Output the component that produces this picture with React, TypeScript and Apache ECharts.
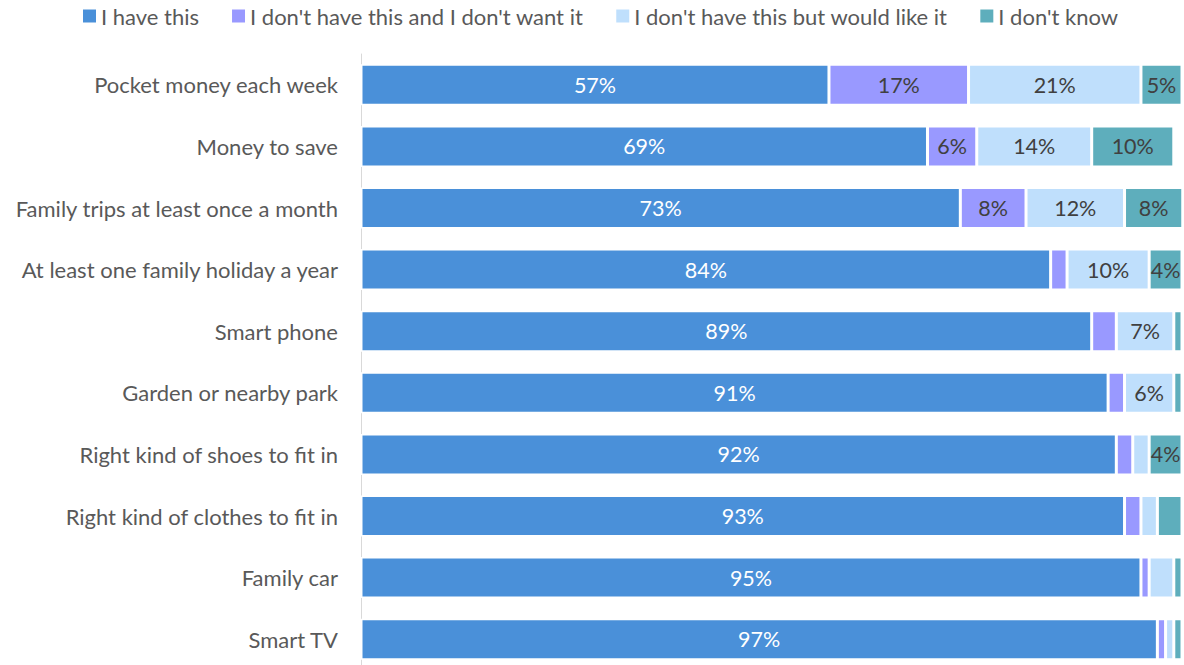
import React, { useEffect, useRef } from "react";
import * as echarts from "echarts";

const categories = [
  "Pocket money each week",
  "Money to save",
  "Family trips at least once a month",
  "At least one family holiday a year",
  "Smart phone",
  "Garden or nearby park",
  "Right kind of shoes to fit in",
  "Right kind of clothes to fit in",
  "Family car",
  "Smart TV",
];

const haveThis = [57, 69, 73, 84, 89, 91, 92, 93, 95, 97];
const dontWant = [17, 6, 8, 2, 3, 2, 2, 2, 1, 1];
const wouldLike = [21, 14, 12, 10, 7, 6, 2, 2, 3, 1];
const dontKnow = [5, 10, 8, 4, 1, 1, 4, 3, 1, 1];

const seriesNames = [
  "I have this",
  "I don't have this and I don't want it",
  "I don't have this but would like it",
  "I don't know",
];
const seriesData = [haveThis, dontWant, wouldLike, dontKnow];
const colors = ["#4A90D9", "#9999FF", "#BFDFFC", "#5EAEBC"];
const labelColors = ["#FFFFFF", "#404040", "#404040", "#404040"];

const FONT = "Lato";

export default function App() {
  const ref = useRef<HTMLDivElement>(null);
  useEffect(() => {
    if (!ref.current) return;
    const chart = echarts.init(ref.current, undefined, { renderer: "svg" });
    chart.setOption({
      animation: false,
      textStyle: { fontFamily: FONT },
      legend: {
        top: 0,
        left: 78,
        itemWidth: 13,
        itemHeight: 13,
        itemGap: 33,
        icon: "rect",
        itemStyle: { borderWidth: 0 },
        textStyle: { fontSize: 22, color: "#595959", fontFamily: FONT },
        data: seriesNames,
      },
      grid: { left: 361, right: 2, top: 54, height: 616 },
      xAxis: {
        type: "value",
        min: 0,
        max: 100,
        show: false,
      },
      yAxis: {
        type: "category",
        data: categories,
        inverse: true,
        axisLine: { show: true, lineStyle: { color: "#D9D9D9", width: 1 } },
        axisTick: { show: false },
        axisLabel: { fontSize: 22, color: "#595959", margin: 23, fontFamily: FONT },
      },
      series: seriesData.map((d, i) => ({
        name: seriesNames[i],
        type: "bar",
        stack: "total",
        barWidth: 41,
        data: d,
        itemStyle: { color: colors[i], borderColor: "#FFFFFF", borderWidth: 1.5 },
        label: {
          show: true,
          position: "inside",
          fontSize: 21.5,
          fontFamily: FONT,
          color: labelColors[i],
          formatter: (p: any) => (p.value >= 4 ? p.value + "%" : ""),
        },
      })),
    });
    return () => chart.dispose();
  }, []);
  return (
    <div
      ref={ref}
      style={{ position: "absolute", left: 0, top: 0, width: 1184, height: 672 }}
    />
  );
}
